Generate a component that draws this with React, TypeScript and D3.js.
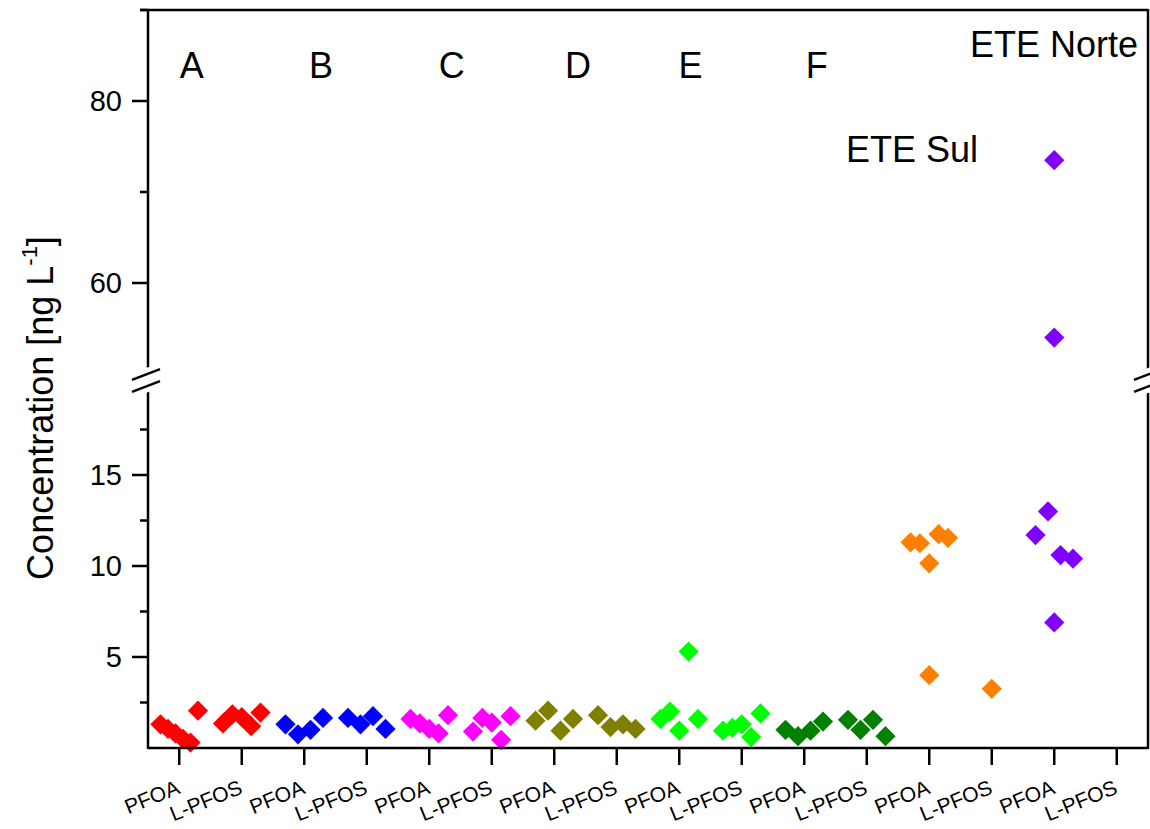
import React from "react";
import * as d3 from "d3";

// sites (one colour each) and the two compounds per site
const sites = ["A", "B", "C", "D", "E", "F", "ETE Sul", "ETE Norte"];
const compounds = ["PFOA", "L-PFOS"];
const siteColors = ["#ff0000", "#0000ff", "#ff00ff", "#808000", "#00ff00", "#008000", "#ff8000", "#8000ff"];

// concentrations [ng/L]
const A_PFOA = [1.3, 1.05, 0.8, 0.5, 0.3, 2.05];
const A_LPFOS = [1.35, 1.85, 1.7, 1.2, 1.95];
const B_PFOA = [1.3, 0.75, 1.0, 1.65];
const B_LPFOS = [1.65, 1.3, 1.75, 1.05];
const C_PFOA = [1.6, 1.35, 1.05, 0.8, 1.8];
const C_LPFOS = [0.9, 1.65, 1.4, 0.45, 1.75];
const D_PFOA = [1.5, 2.05, 0.95, 1.6];
const D_LPFOS = [1.8, 1.15, 1.3, 1.05];
const E_PFOA = [1.6, 2.0, 0.95, 5.3, 1.6];
const E_LPFOS = [0.95, 1.1, 1.3, 0.6, 1.9];
const F_PFOA = [1.0, 0.65, 0.95, 1.45];
const F_LPFOS = [1.55, 1.0, 1.55, 0.65];
const SUL_PFOA = [11.3, 11.25, 10.15, 4.0, 11.75, 11.55];
const SUL_LPFOS = [3.25];
const NORTE_PFOA = [11.7, 13.0, 6.9, 10.6, 10.4, 73.5, 54.0];
const NORTE_LPFOS: number[] = [];

const columns = [
  A_PFOA, A_LPFOS, B_PFOA, B_LPFOS, C_PFOA, C_LPFOS, D_PFOA, D_LPFOS,
  E_PFOA, E_LPFOS, F_PFOA, F_LPFOS, SUL_PFOA, SUL_LPFOS, NORTE_PFOA, NORTE_LPFOS,
];

// y axis ticks for the two segments of the broken axis
const lowMajor = [5, 10, 15];
const lowMinor = [2.5, 7.5, 12.5, 17.5];
const highMajor = [60, 80];
const highMinor = [70, 90];

// text annotations (x in column units, y in data units)
const siteNotes = [
  { text: "A", x: 1.2, y: 84 },
  { text: "B", x: 3.27, y: 84 },
  { text: "C", x: 5.36, y: 84 },
  { text: "D", x: 7.38, y: 84 },
  { text: "E", x: 9.18, y: 84 },
  { text: "F", x: 11.2, y: 84 },
];

const W = 1150;
const H = 829;
const left = 148;
const right = 1148;
const top = 10;
const bottom = 748;
const breakHi = 374.5;
const breakLo = 386.5;

const FONT = "'Liberation Sans', Arial, sans-serif";

const x = d3.scaleLinear().domain([0.5, 16.5]).range([left, right]);
const yLow = d3.scaleLinear().domain([0, 20]).range([bottom, 384]);
const yHigh = d3.scaleLinear().domain([50, 90]).range([374, top]);
const yVal = (v: number) => (v > 30 ? yHigh(v) : yLow(v));

// spread overlapping points of a column sideways, isolated ones stay centred
function offsets(vals: number[]) {
  const iso = vals.map((v, i) => vals.every((w, j) => j === i || Math.abs(w - v) > 3.4));
  const rest = vals.map((_, i) => i).filter((i) => !iso[i]);
  const out = vals.map(() => 0);
  rest.forEach((idx, k) => {
    out[idx] = rest.length > 1 ? -0.3 + (0.6 * k) / (rest.length - 1) : 0;
  });
  return out;
}

const diamond = d3.symbol(d3.symbolSquare, 205)();

function Slash({ cx, cy }: { cx: number; cy: number }) {
  return (
    <g transform={`rotate(-21 ${cx} ${cy})`}>
      <rect x={cx - 15} y={cy - 6} width={30} height={12} fill="white" />
      <line x1={cx - 15} x2={cx + 15} y1={cy} y2={cy} stroke="black" strokeWidth={2.5} />
    </g>
  );
}

export default function App() {
  const points: { cx: number; cy: number; color: string }[] = [];
  columns.forEach((vals, ci) => {
    const off = offsets(vals);
    vals.forEach((v, i) => {
      points.push({ cx: x(ci + 1 + off[i]), cy: yVal(v), color: siteColors[Math.floor(ci / 2)] });
    });
  });

  const cats = d3.range(1, columns.length + 1);

  return (
    <svg width={W} height={H} style={{ position: "absolute", left: 0, top: 0, display: "block", background: "white" }}
      fontFamily={FONT}>
      {/* points */}
      <g>
        {points.map((p, i) => (
          <path key={i} d={diamond} transform={`translate(${p.cx},${p.cy}) rotate(45)`} fill={p.color} />
        ))}
      </g>

      {/* frame */}
      <g stroke="black" strokeWidth={2.5} fill="none">
        <line x1={left - 8} x2={right} y1={top} y2={top} />
        <line x1={left} x2={right} y1={bottom} y2={bottom} />
        <line x1={left} x2={left} y1={top} y2={breakHi} />
        <line x1={left} x2={left} y1={breakLo} y2={bottom + 1} />
        <line x1={right} x2={right} y1={top - 1} y2={breakHi} />
        <line x1={right} x2={right} y1={breakLo} y2={bottom + 1} />
      </g>

      {/* axis break marks */}
      <Slash cx={left - 2} cy={breakHi} />
      <Slash cx={left - 2} cy={breakLo} />
      <Slash cx={right} cy={breakHi} />
      <Slash cx={right} cy={breakLo} />

      {/* y ticks */}
      <g stroke="black" strokeWidth={2.5}>
        {lowMajor.map((t) => (
          <line key={"lM" + t} x1={left - 16} x2={left} y1={yLow(t)} y2={yLow(t)} />
        ))}
        {lowMinor.map((t) => (
          <line key={"lm" + t} x1={left - 8} x2={left} y1={yLow(t)} y2={yLow(t)} />
        ))}
        {highMajor.map((t) => (
          <line key={"hM" + t} x1={left - 16} x2={left} y1={yHigh(t)} y2={yHigh(t)} />
        ))}
        {highMinor.map((t) => (
          <line key={"hm" + t} x1={left - 8} x2={left} y1={yHigh(t)} y2={yHigh(t)} />
        ))}
      </g>
      <g fontSize={29} textAnchor="end" fill="black">
        {lowMajor.map((t) => (
          <text key={"lt" + t} x={left - 26} y={yLow(t)} dy="0.36em">{t}</text>
        ))}
        {highMajor.map((t) => (
          <text key={"ht" + t} x={left - 26} y={yHigh(t)} dy="0.36em">{t}</text>
        ))}
      </g>

      {/* x ticks and labels */}
      <g stroke="black" strokeWidth={2.5}>
        {cats.map((c) => (
          <line key={c} x1={x(c)} x2={x(c)} y1={bottom} y2={bottom + 17} />
        ))}
      </g>
      <g fontSize={21} textAnchor="end" fill="black">
        {cats.map((c) => (
          <text key={c} transform={`translate(${x(c) + 2},${793}) rotate(-22)`}>
            {compounds[(c - 1) % 2]}
          </text>
        ))}
      </g>

      {/* y axis title */}
      <text transform={`translate(53,${408}) rotate(-90)`} textAnchor="middle" fontSize={36} fill="black">
        Concentration [ng L
        <tspan fontSize={22} dy={-16}>-1</tspan>
        <tspan dy={16}>]</tspan>
      </text>

      {/* annotations */}
      <g fontSize={36} fill="black">
        {siteNotes.map((n) => (
          <text key={n.text} x={x(n.x)} y={yHigh(n.y) + 13} textAnchor="middle">{n.text}</text>
        ))}
        <text x={1138} y={57} textAnchor="end">{sites[7]}</text>
        <text x={846} y={162}>{sites[6]}</text>
      </g>
    </svg>
  );
}
